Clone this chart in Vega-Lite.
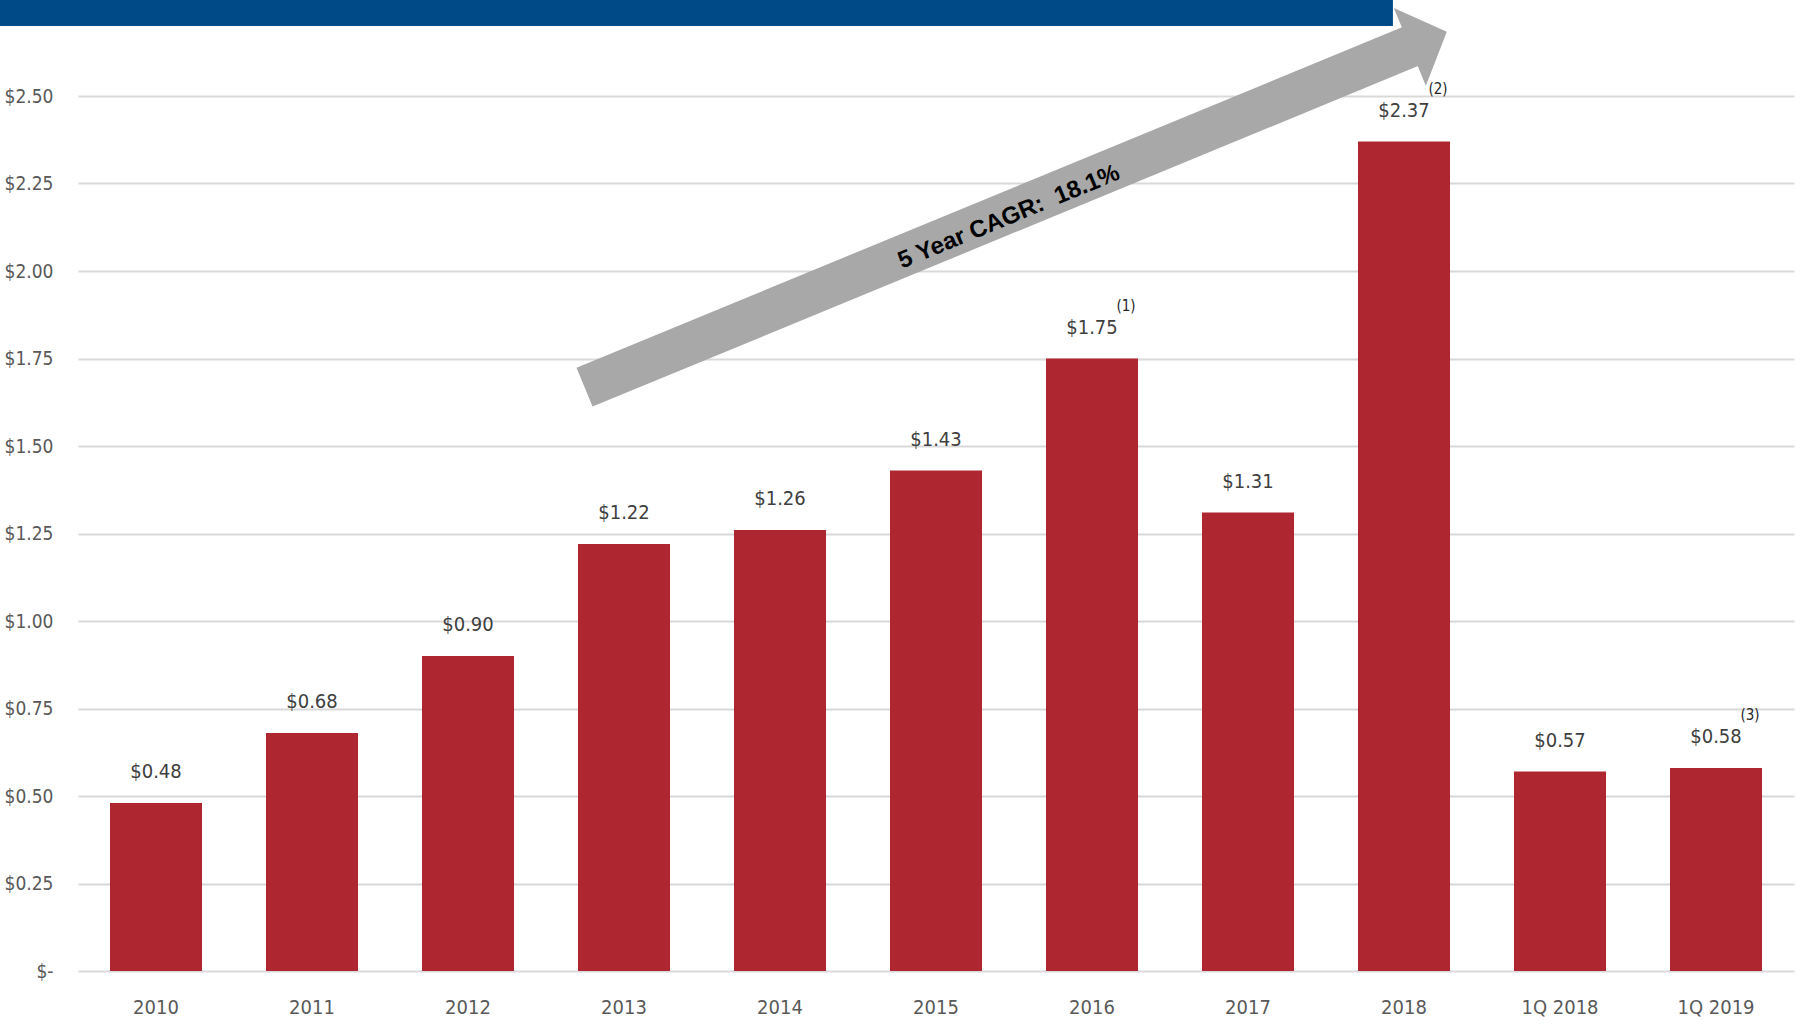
{
  "$schema": "https://vega.github.io/schema/vega-lite/v6.json",
  "autosize": "none",
  "width": 1716,
  "height": 875,
  "padding": {"left": 78, "top": 96, "right": 2, "bottom": 53},
  "background": "#ffffff",
  "config": {
    "view": {"stroke": null},
    "font": "DejaVu Sans Condensed, DejaVu Sans, sans-serif"
  },
  "datasets": {
    "eps": [
      {"period": "2010", "value": 0.48, "note": ""},
      {"period": "2011", "value": 0.68, "note": ""},
      {"period": "2012", "value": 0.90, "note": ""},
      {"period": "2013", "value": 1.22, "note": ""},
      {"period": "2014", "value": 1.26, "note": ""},
      {"period": "2015", "value": 1.43, "note": ""},
      {"period": "2016", "value": 1.75, "note": "(1)"},
      {"period": "2017", "value": 1.31, "note": ""},
      {"period": "2018", "value": 2.37, "note": "(2)"},
      {"period": "1Q 2018", "value": 0.57, "note": ""},
      {"period": "1Q 2019", "value": 0.58, "note": "(3)"}
    ],
    "banner": [{"x": -1.0, "x2": 7.929, "y": 2.78, "y2": 2.70}],
    "shaft": [{"x": 2.747, "y": 1.668, "x2": 8.05, "y2": 2.643}],
    "head": [{"x": 8.156, "y": 2.662}],
    "cagr": [{"x": 5.468, "y": 2.154, "label": "5 Year CAGR:\u00a0 18.1%"}]
  },
  "layer": [
    {
      "data": {"name": "eps"},
      "encoding": {
        "x": {
          "field": "period", "type": "nominal", "sort": null,
          "scale": {"paddingInner": 0.41, "paddingOuter": 0.205},
          "axis": {
            "title": null, "domain": false, "ticks": false, "labelAngle": 0,
            "labelFontSize": 20, "labelColor": "#595959", "labelPadding": 26
          }
        },
        "y": {
          "field": "value", "type": "quantitative",
          "scale": {"domain": [0, 2.5], "nice": false, "zero": true},
          "axis": {
            "title": null, "domain": false, "ticks": false,
            "values": [0, 0.25, 0.5, 0.75, 1, 1.25, 1.5, 1.75, 2, 2.25, 2.5],
            "labelExpr": "datum.value == 0 ? '$-' : '$' + format(datum.value, '.2f')",
            "labelFontSize": 19, "labelColor": "#595959", "labelPadding": 25,
            "gridColor": "#d9d9d9", "gridWidth": 2
          }
        }
      },
      "layer": [
        {"mark": {"type": "bar", "color": "#ae2730"}},
        {
          "mark": {"type": "text", "baseline": "middle", "align": "center", "dy": -31, "fontSize": 20, "color": "#404040"},
          "encoding": {"text": {"field": "value", "type": "quantitative", "format": "$.2f"}}
        },
        {
          "transform": [{"filter": "datum.note != ''"}],
          "mark": {"type": "text", "baseline": "middle", "align": "center", "dx": 34, "dy": -53, "fontSize": 15, "color": "#262626"},
          "encoding": {"text": {"field": "note", "type": "nominal"}}
        }
      ]
    },
    {
      "layer": [
        {
          "data": {"name": "shaft"},
          "mark": {"type": "rule", "color": "#a8a8a8", "strokeWidth": 42, "strokeCap": "butt"},
          "encoding": {
            "x": {"field": "x", "type": "quantitative", "scale": {"domain": [-0.5, 10.5], "nice": false, "zero": false}, "axis": null},
            "y": {"field": "y", "type": "quantitative"},
            "x2": {"field": "x2"},
            "y2": {"field": "y2"}
          }
        },
        {
          "data": {"name": "head"},
          "mark": {"type": "point", "shape": "M -0.476 -1 L 0.476 0 L -0.476 1 Z", "size": 7056, "angle": 337.6, "filled": true, "fill": "#a8a8a8", "strokeWidth": 0, "opacity": 1},
          "encoding": {
            "x": {"field": "x", "type": "quantitative", "scale": {"domain": [-0.5, 10.5], "nice": false, "zero": false}, "axis": null},
            "y": {"field": "y", "type": "quantitative"}
          }
        },
        {
          "data": {"name": "banner"},
          "mark": {"type": "rect", "color": "#004b87"},
          "encoding": {
            "x": {"field": "x", "type": "quantitative", "scale": {"domain": [-0.5, 10.5], "nice": false, "zero": false}, "axis": null},
            "x2": {"field": "x2"},
            "y": {"field": "y", "type": "quantitative"},
            "y2": {"field": "y2"}
          }
        },
        {
          "data": {"name": "cagr"},
          "mark": {"type": "text", "font": "Liberation Sans, Arial, sans-serif", "fontWeight": "bold", "fontSize": 24, "color": "#000000", "angle": 337.6, "align": "center", "baseline": "middle"},
          "encoding": {
            "x": {"field": "x", "type": "quantitative", "scale": {"domain": [-0.5, 10.5], "nice": false, "zero": false}, "axis": null},
            "y": {"field": "y", "type": "quantitative"},
            "text": {"field": "label", "type": "nominal"}
          }
        }
      ]
    }
  ],
  "resolve": {"scale": {"x": "independent"}, "axis": {"x": "independent"}}
}
